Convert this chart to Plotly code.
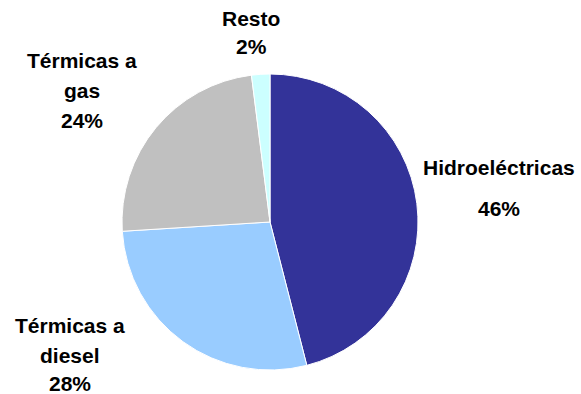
import plotly.graph_objects as go

# Generation mix by plant type (percent)
labels = ["Hidroeléctricas", "Térmicas a diesel", "Térmicas a gas", "Resto"]
values = [46, 28, 24, 2]
colors = ["#333399", "#99CCFF", "#C0C0C0", "#CCFFFF"]

# Label lines for each slice (name split the way it is printed)
label_lines = [
    ["Hidroeléctricas"],
    ["Térmicas a", "diesel"],
    ["Térmicas a", "gas"],
    ["Resto"],
]

W, H = 581, 394

fig = go.Figure(
    go.Pie(
        labels=labels,
        values=values,
        sort=False,
        direction="clockwise",
        rotation=0,
        marker=dict(colors=colors, line=dict(color="white", width=1)),
        textinfo="none",
        hoverinfo="label+percent",
        domain=dict(x=[122 / W, 418 / W], y=[(H - 370) / H, (H - 74) / H]),
        showlegend=False,
    )
)

# Label placement (pixel centres for each line, then the percentage)
label_pos = [
    (499, [167], 208),
    (70, [325, 355], 383),
    (82, [60, 90], 120),
    (251, [18], 46),
]

font = dict(family="Liberation Sans, Arial, sans-serif", size=21, color="black")
annotations = []
for lines, (cx, ys, py), v in zip(label_lines, label_pos, values):
    for txt, y in zip(lines, ys):
        annotations.append(dict(
            x=cx / W, y=1 - y / H, xref="paper", yref="paper",
            text=f"<b>{txt}</b>", showarrow=False, font=font,
            xanchor="center", yanchor="middle",
        ))
    annotations.append(dict(
        x=cx / W, y=1 - py / H, xref="paper", yref="paper",
        text=f"<b>{v}%</b>", showarrow=False, font=font,
        xanchor="center", yanchor="middle",
    ))

fig.update_layout(
    width=W, height=H,
    margin=dict(l=0, r=0, t=0, b=0),
    paper_bgcolor="white",
    plot_bgcolor="white",
    annotations=annotations,
)

fig.write_html("out.html")
